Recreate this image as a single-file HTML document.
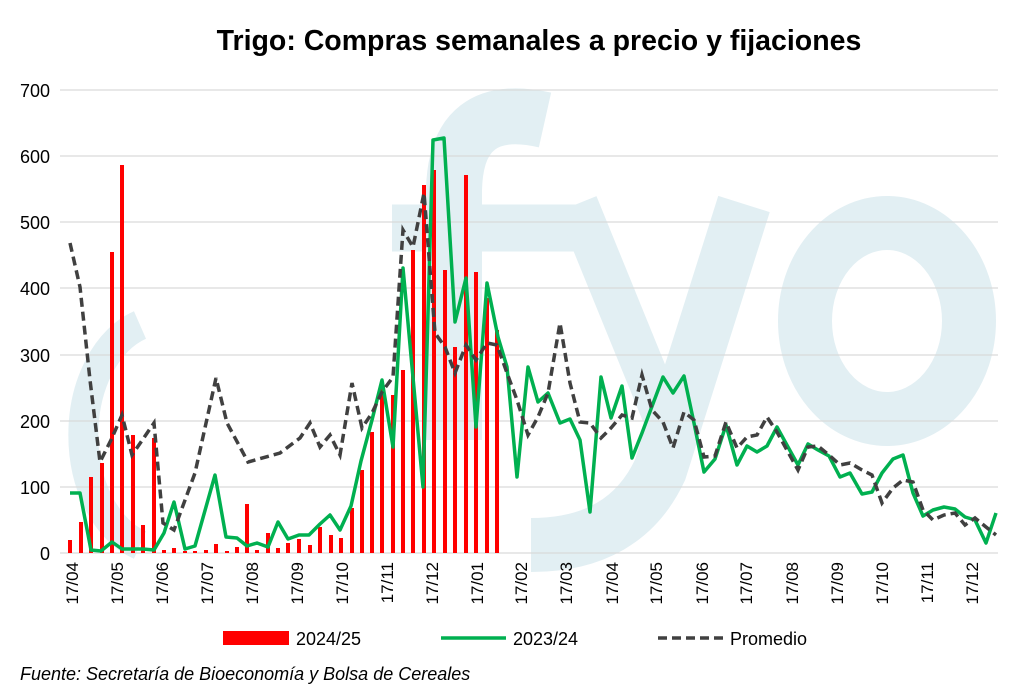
<!DOCTYPE html>
<html><head><meta charset="utf-8"><style>
body{margin:0;background:#fff;}
svg text{font-family:"Liberation Sans",sans-serif;}
</style></head><body>
<svg width="1024" height="691" viewBox="0 0 1024 691" xmlns="http://www.w3.org/2000/svg">
<rect width="1024" height="691" fill="#fff"/>
<!-- watermark -->
<g fill="none" stroke="#e2eff3">
<path d="M140,325 A80,115 0 0 0 140,545" stroke-width="30"/>
<path d="M454,440 L454,190 Q456,100 545,120" stroke-width="56"/>
<path d="M392,228 L597,228" stroke-width="47"/>
<path d="M577,204 L665,420" stroke-width="42"/>
<path d="M744,204 L660,470 Q625,545 531,545" stroke-width="54"/>
<ellipse cx="887" cy="321" rx="82" ry="98" stroke-width="54"/>
</g>
<text x="539" y="50" text-anchor="middle" font-size="28.5" font-weight="bold" fill="#000">Trigo: Compras semanales a precio y fijaciones</text>
<g stroke="#d9d9d9" stroke-width="1.3">
<line x1="60" y1="90" x2="998" y2="90"/><line x1="60" y1="156" x2="998" y2="156"/>
<line x1="60" y1="222" x2="998" y2="222"/><line x1="60" y1="288" x2="998" y2="288"/>
<line x1="60" y1="355" x2="998" y2="355"/><line x1="60" y1="421" x2="998" y2="421"/>
<line x1="60" y1="487" x2="998" y2="487"/><line x1="60" y1="553" x2="998" y2="553"/>
</g>
<g font-size="18" fill="#000" text-anchor="end">
<text x="50" y="97">700</text><text x="50" y="163">600</text><text x="50" y="229">500</text>
<text x="50" y="295">400</text><text x="50" y="362">300</text><text x="50" y="428">200</text>
<text x="50" y="494">100</text><text x="50" y="560">0</text>
</g>
<g font-size="17" fill="#000" text-anchor="end">
<text transform="translate(78,562) rotate(-90)">17/04</text>
<text transform="translate(123,562) rotate(-90)">17/05</text>
<text transform="translate(168,562) rotate(-90)">17/06</text>
<text transform="translate(213,562) rotate(-90)">17/07</text>
<text transform="translate(258,562) rotate(-90)">17/08</text>
<text transform="translate(303,562) rotate(-90)">17/09</text>
<text transform="translate(348,562) rotate(-90)">17/10</text>
<text transform="translate(393,562) rotate(-90)">17/11</text>
<text transform="translate(438,562) rotate(-90)">17/12</text>
<text transform="translate(483,562) rotate(-90)">17/01</text>
<text transform="translate(527,562) rotate(-90)">17/02</text>
<text transform="translate(572,562) rotate(-90)">17/03</text>
<text transform="translate(618,562) rotate(-90)">17/04</text>
<text transform="translate(662,562) rotate(-90)">17/05</text>
<text transform="translate(708,562) rotate(-90)">17/06</text>
<text transform="translate(752,562) rotate(-90)">17/07</text>
<text transform="translate(798,562) rotate(-90)">17/08</text>
<text transform="translate(843,562) rotate(-90)">17/09</text>
<text transform="translate(888,562) rotate(-90)">17/10</text>
<text transform="translate(933,562) rotate(-90)">17/11</text>
<text transform="translate(978,562) rotate(-90)">17/12</text>
</g>
<g stroke="#ff0000" stroke-width="4">
<line x1="70" y1="553" x2="70" y2="540"/><line x1="81" y1="553" x2="81" y2="522"/>
<line x1="91" y1="553" x2="91" y2="477"/><line x1="102" y1="553" x2="102" y2="463"/>
<line x1="112" y1="553" x2="112" y2="252"/><line x1="122" y1="553" x2="122" y2="165"/>
<line x1="133" y1="553" x2="133" y2="435"/><line x1="143" y1="553" x2="143" y2="525"/>
<line x1="154" y1="553" x2="154" y2="438"/><line x1="164" y1="553" x2="164" y2="550"/>
<line x1="174" y1="553" x2="174" y2="548"/><line x1="185" y1="553" x2="185" y2="551"/>
<line x1="195" y1="553" x2="195" y2="551"/><line x1="206" y1="553" x2="206" y2="550"/>
<line x1="216" y1="553" x2="216" y2="544"/><line x1="227" y1="553" x2="227" y2="551"/>
<line x1="237" y1="553" x2="237" y2="547"/><line x1="247" y1="553" x2="247" y2="504"/>
<line x1="257" y1="553" x2="257" y2="550"/><line x1="268" y1="553" x2="268" y2="533"/>
<line x1="278" y1="553" x2="278" y2="548"/><line x1="288" y1="553" x2="288" y2="543"/>
<line x1="299" y1="553" x2="299" y2="539"/><line x1="310" y1="553" x2="310" y2="545"/>
<line x1="320" y1="553" x2="320" y2="527"/><line x1="331" y1="553" x2="331" y2="535"/>
<line x1="341" y1="553" x2="341" y2="538"/><line x1="352" y1="553" x2="352" y2="508"/>
<line x1="362" y1="553" x2="362" y2="470"/><line x1="372" y1="553" x2="372" y2="432"/>
<line x1="382" y1="553" x2="382" y2="388"/><line x1="393" y1="553" x2="393" y2="395"/>
<line x1="403" y1="553" x2="403" y2="370"/><line x1="413" y1="553" x2="413" y2="250"/>
<line x1="424" y1="553" x2="424" y2="185"/><line x1="434" y1="553" x2="434" y2="170"/>
<line x1="445" y1="553" x2="445" y2="270"/><line x1="455" y1="553" x2="455" y2="347"/>
<line x1="466" y1="553" x2="466" y2="175"/><line x1="476" y1="553" x2="476" y2="272"/>
<line x1="487" y1="553" x2="487" y2="298"/><line x1="497" y1="553" x2="497" y2="330"/>
</g>
<polyline fill="none" stroke="#00b050" stroke-width="3.5" stroke-linejoin="round" points="70,493 80,493 91,550 101,551 112,542 122,549 133,549 143,549 154,550 164,533 174,502 185,549 195,546 215,475 226,537 237,538 247,546 257,543 268,547 278,522 288,539 299,535 309,535 320,524 330,515 340,530 351,506 361,461 372,420 382,380 393,447 403,268 423,487 433,140 444,138 455,322 466,278 476,427 487,283 498,337 507,367 517,477 528,367 538,402 548,393 560,423 570,419 580,440 590,512 601,377 611,418 622,386 632,458 642,433 663,377 673,393 684,376 694,423 704,472 715,459 726,425 737,465 747,446 757,452 767,446 777,427 788,447 798,465 808,444 818,450 829,456 840,477 850,473 862,494 872,492 882,473 893,459 903,455 913,493 923,516 933,510 944,507 955,509 965,517 975,520 986,543 996,513"/>
<polyline fill="none" stroke="#404040" stroke-width="3.5" stroke-dasharray="9,5" points="70,243 80,287 90,380 100,462 111,440 122,415 132,455 154,423 163,523 174,530 195,473 216,378 227,423 248,462 280,453 300,438 310,423 320,447 330,435 340,455 352,383 362,428 372,413 382,392 393,377 403,230 413,247 424,193 435,333 445,347 455,373 466,345 476,360 487,343 497,345 507,373 517,400 528,435 538,417 548,393 560,323 570,383 580,422 590,423 601,438 611,428 622,415 632,418 642,375 652,410 663,422 673,448 684,412 694,420 704,457 715,456 726,422 737,448 747,437 757,435 767,417 777,432 788,452 798,470 808,447 818,446 829,455 840,465 850,463 862,470 872,475 882,503 893,488 903,480 913,482 923,510 933,520 944,515 955,513 965,525 975,518 986,527 996,535"/>
<rect x="223" y="631" width="66" height="14" fill="#ff0000"/>
<text x="296" y="645" font-size="18">2024/25</text>
<line x1="441" y1="638" x2="506" y2="638" stroke="#00b050" stroke-width="3.5"/>
<text x="513" y="645" font-size="18">2023/24</text>
<line x1="658" y1="638" x2="723" y2="638" stroke="#404040" stroke-width="3.5" stroke-dasharray="9,5"/>
<text x="730" y="645" font-size="18">Promedio</text>
<text x="20" y="680" font-size="18" font-style="italic">Fuente: Secretaría de Bioeconomía y Bolsa de Cereales</text>
</svg>
</body></html>
